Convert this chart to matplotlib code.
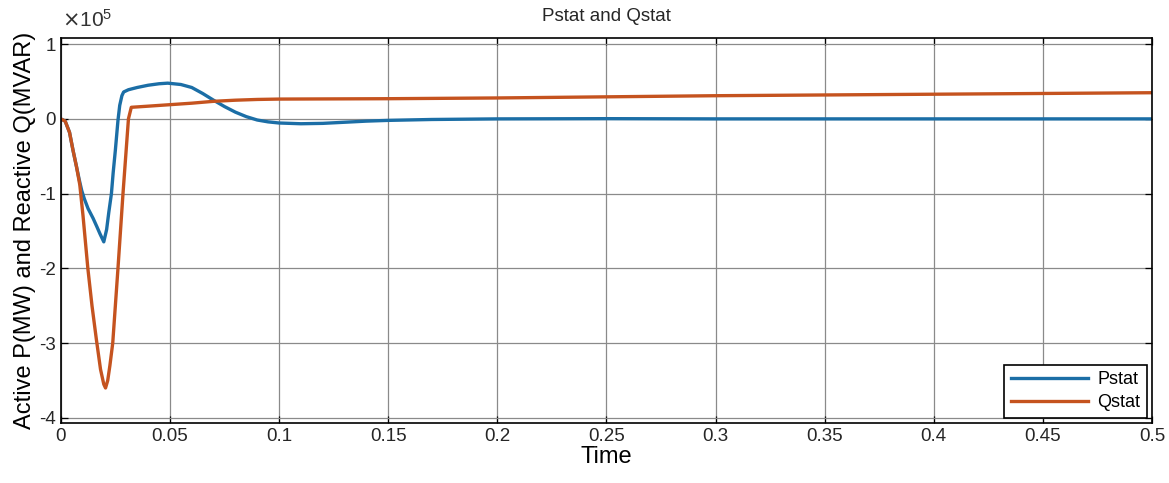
import numpy as np
import matplotlib
matplotlib.use("Agg")
import matplotlib.pyplot as plt

plt.rcParams['font.family'] = ['Liberation Sans', 'DejaVu Sans']
plt.rcParams['axes.unicode_minus'] = False

# values, y in units of 1e5
time_p = [0, 0.002, 0.004, 0.0056, 0.0072, 0.0085, 0.0096, 0.0108, 0.0125, 0.0148,
          0.0165, 0.018, 0.0197, 0.021, 0.022, 0.0232, 0.024, 0.025, 0.0262,
          0.027, 0.028, 0.0288, 0.031, 0.035, 0.040, 0.045, 0.049, 0.055,
          0.060, 0.065, 0.070, 0.075, 0.080, 0.085, 0.090, 0.095, 0.100,
          0.110, 0.120, 0.130, 0.140, 0.150, 0.170, 0.200, 0.250, 0.300,
          0.400, 0.500]
pstat = [0, -0.03, -0.18, -0.42, -0.64, -0.82, -0.96, -1.07, -1.2, -1.33,
         -1.44, -1.54, -1.645, -1.48, -1.25, -1.0, -0.72, -0.42, -0.02,
         0.18, 0.31, 0.36, 0.39, 0.42, 0.45, 0.47, 0.478, 0.46,
         0.42, 0.34, 0.25, 0.165, 0.09, 0.03, -0.015, -0.04, -0.055,
         -0.065, -0.06, -0.045, -0.03, -0.02, -0.008, 0.0, 0.003, 0.0,
         0.0, 0.0]

time_q = [0, 0.002, 0.004, 0.0056, 0.0072, 0.0087, 0.0102, 0.0124, 0.0143,
          0.0163, 0.0182, 0.0197, 0.0205, 0.0215, 0.0225, 0.0238, 0.0262,
          0.0285, 0.031, 0.0323, 0.040, 0.050, 0.060, 0.070, 0.080, 0.090,
          0.100, 0.150, 0.200, 0.250, 0.300, 0.350, 0.400, 0.450, 0.500]
qstat = [0, -0.03, -0.18, -0.42, -0.64, -0.88, -1.3, -2.0, -2.5,
         -2.95, -3.35, -3.55, -3.6, -3.5, -3.3, -3.0, -2.0,
         -1.0, 0.0, 0.155, 0.17, 0.19, 0.21, 0.235, 0.25, 0.26,
         0.265, 0.27, 0.28, 0.295, 0.31, 0.32, 0.33, 0.34, 0.35]

x_ticks = [0, 0.05, 0.1, 0.15, 0.2, 0.25, 0.3, 0.35, 0.4, 0.45, 0.5]
x_ticklabels = ['0', '0.05', '0.1', '0.15', '0.2', '0.25', '0.3', '0.35', '0.4', '0.45', '0.5']
y_ticks = [-4, -3, -2, -1, 0, 1]
y_ticklabels = ['-4', '-3', '-2', '-1', '0', '1']
scale = 1e5

fig = plt.figure(figsize=(11.69, 4.83), dpi=100)
ax = fig.add_axes([0.052, 0.124, 0.9335, 0.797])

ax.plot(time_p, np.array(pstat) * scale, color='#1b6ea6', lw=2.4, label='Pstat')
ax.plot(time_q, np.array(qstat) * scale, color='#c5531f', lw=2.4, label='Qstat')

ax.set_xlim(0, 0.5)
ax.set_ylim(-4.07 * scale, 1.08 * scale)
ax.set_xticks(x_ticks)
ax.set_xticklabels(x_ticklabels)
ax.set_yticks(np.array(y_ticks) * scale)
ax.set_yticklabels(y_ticklabels)
ax.text(0.001, 1.018, r'$\times\mathregular{10^5}$', transform=ax.transAxes,
        fontsize=15, color='#333333', ha='left', va='bottom')

ax.grid(True, color='#8a8a8a', lw=0.9)
ax.tick_params(direction='in', top=True, right=True, labelsize=13.5,
               length=5, width=0.9, colors='black', labelcolor='#262626')
for s in ax.spines.values():
    s.set_linewidth(1.2)
    s.set_color('black')

ax.set_title('Pstat and Qstat', fontsize=13.5, color='#262626', pad=12)
ax.set_xlabel('Time', fontsize=17, labelpad=1)
ax.set_ylabel('Active P(MW) and Reactive Q(MVAR)', fontsize=17, labelpad=2)

leg = ax.legend(loc='lower right', fontsize=13, fancybox=False, framealpha=1,
                edgecolor='black', handlelength=4.3, borderpad=0.35,
                labelspacing=0.35, handletextpad=0.5, borderaxespad=0.3)
leg.get_frame().set_linewidth(1.2)

fig.savefig('out.png', dpi=100)
